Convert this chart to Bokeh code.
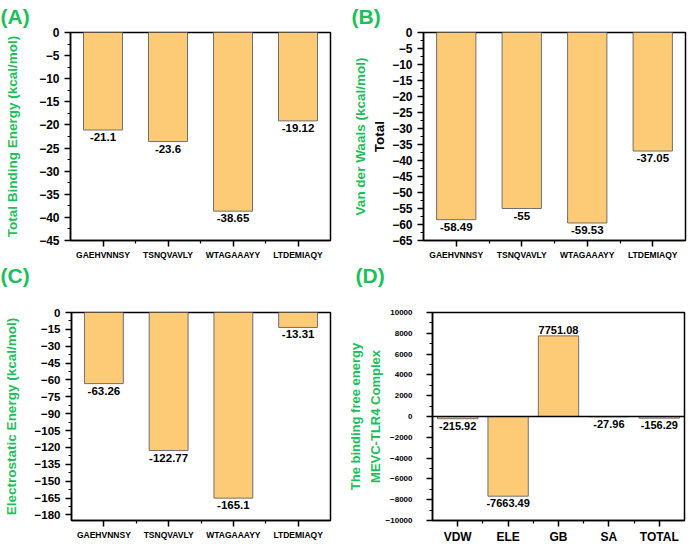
from bokeh.plotting import figure
from bokeh.models import (Range1d, FixedTicker, SingleIntervalTicker, Span, ColumnDataSource,
                          LinearAxis, Title)
from bokeh.layouts import column, row
from bokeh.embed import file_html
from bokeh.resources import INLINE
from bokeh.core.properties import value

# ---- data ----
peptides = ["GAEHVNNSY", "TSNQVAVLY", "WTAGAAAYY", "LTDEMIAQY"]
total_energy = [-21.1, -23.6, -38.65, -19.12]
vdw_energy = [-58.49, -55, -59.53, -37.05]
elec_energy = [-63.26, -122.77, -165.1, -13.31]
complex_terms = ["VDW", "ELE", "GB", "SA", "TOTAL"]
complex_energy = [-215.92, -7663.49, 7751.08, -27.96, -156.29]
panel_titles = ["(A)", "(B)", "(C)", "(D)"]

GREEN = "#1dbf5c"
FILL = "#fdca75"
EDGE = "#707070"
FONT = "Liberation Sans"


def style_label(ax, text, color, size, standoff):
    ax.axis_label = text
    ax.axis_label_text_color = color
    ax.axis_label_text_font = FONT
    ax.axis_label_text_font_style = "bold"
    ax.axis_label_text_font_size = size
    ax.axis_label_standoff = standoff


def extra_label_axis(p, text, color, size, standoff):
    ax = LinearAxis(ticker=FixedTicker(ticks=[]), axis_line_color=None,
                    major_tick_line_color=None, minor_tick_line_color=None,
                    major_tick_out=0, minor_tick_out=0, major_tick_in=0, minor_tick_in=0,
                    major_label_standoff=0)
    style_label(ax, text, color, size, standoff)
    p.add_layout(ax, "left")


def add_title(p, text, side, offset, standoff):
    ttl = Title(text=text, align="left", vertical_align="top", offset=offset,
                standoff=standoff, text_font=FONT, text_font_style="bold",
                text_font_size="21px", text_color=GREEN)
    p.add_layout(ttl, side)


def panel(cats, vals, width, height, borders, yr, interval, bar_w,
          ytick_size, xtick_size, val_size, ystandoff):
    l, r, t, b = borders
    p = figure(width=width, height=height, output_backend="svg", toolbar_location=None,
               x_range=Range1d(0.5, len(cats) + 0.5), y_range=Range1d(*yr),
               min_border_left=l, min_border_right=r, min_border_top=t, min_border_bottom=b)
    p.grid.visible = False
    p.outline_line_color = "black"
    p.outline_line_width = 1.5
    p.outline_line_alpha = 1.0
    xs = list(range(1, len(cats) + 1))
    src = ColumnDataSource(dict(x=xs, top=vals))
    p.vbar(x="x", top="top", bottom=0, width=bar_w, source=src,
           fill_color=FILL, line_color=EDGE, line_width=1)

    neg = [i for i, v in enumerate(vals) if v < 0]
    pos = [i for i, v in enumerate(vals) if v >= 0]
    for idx, base, off in ((neg, "top", 3), (pos, "bottom", -2)):
        if not idx:
            continue
        p.text(x=[xs[i] for i in idx], y=[vals[i] for i in idx],
               text=[str(vals[i]) for i in idx], text_align="center",
               text_baseline=base, y_offset=off, text_font=value(FONT),
               text_font_style="bold", text_font_size=val_size, text_color="black")

    p.xaxis.ticker = FixedTicker(ticks=xs, minor_ticks=[i + 0.5 for i in range(1, len(cats))])
    p.xaxis.major_label_overrides = {i: c for i, c in zip(xs, cats)}
    p.yaxis.ticker = SingleIntervalTicker(interval=interval, num_minor_ticks=2)
    for ax in (p.xaxis[0], p.yaxis[0]):
        ax.axis_line_width = 1.5
        ax.axis_line_color = "black"
        ax.major_tick_line_width = 1.5
        ax.minor_tick_line_width = 1.2
        ax.major_tick_in = 0
        ax.major_tick_out = 6
        ax.minor_tick_in = 0
        ax.minor_tick_out = 3
        ax.major_label_text_font = FONT
        ax.major_label_text_font_style = "bold"
        ax.major_label_text_color = "black"
    p.xaxis.major_label_text_font_size = xtick_size
    p.xaxis.major_label_standoff = 3
    p.yaxis.major_label_text_font_size = ytick_size
    p.yaxis.major_label_standoff = ystandoff
    return p


TOP_H = 290
BOT_H = 256

# (A)
pA = panel(peptides, total_energy, 344, TOP_H, (70, 14, 32, 47), (-45, 0), 5, 0.6,
           "12px", "8.5px", "11.5px", 5)
style_label(pA.yaxis[0], "Total Binding Energy (kcal/mol)", GREEN, "13.5px", 16)
add_title(pA, panel_titles[0], "above", -70, 6)
add_title(pA, panel_titles[2], "below", -70, 3)

# (B)
pB = panel(peptides, vdw_energy, 344, TOP_H, (79, 3, 32, 47), (-65, 0), 5, 0.6,
           "12px", "8.5px", "11.5px", 5)
style_label(pB.yaxis[0], "Total", "black", "13.5px", 2)
extra_label_axis(pB, "Van der Waals (kcal/mol)", GREEN, "13.5px", 2)
add_title(pB, panel_titles[1], "above", -72, 6)
add_title(pB, panel_titles[3], "below", -68, 3)

# (C)
pC = panel(peptides, elec_energy, 344, BOT_H, (70, 14, 22, 25), (-185, 0), 15, 0.6,
           "11.5px", "8.5px", "11.5px", 5)
style_label(pC.yaxis[0], "Electrostatic Energy (kcal/mol)", GREEN, "13.5px", 13)

# (D)
pD = panel(complex_terms, complex_energy, 344, BOT_H, (80, 4, 22, 24),
           (-10000, 10000), 2000, 0.8, "8px", "12px", "11px", 14)
pD.add_layout(Span(location=0, dimension="width", line_color="black", line_width=1.5))
style_label(pD.yaxis[0], "MEVC-TLR4 Complex", GREEN, "13px", 0)
extra_label_axis(pD, "The binding free energy", GREEN, "13px", 2)

layout = column(row(pA, pB), row(pC, pD))
open("out.html", "w").write(file_html(layout, INLINE))
